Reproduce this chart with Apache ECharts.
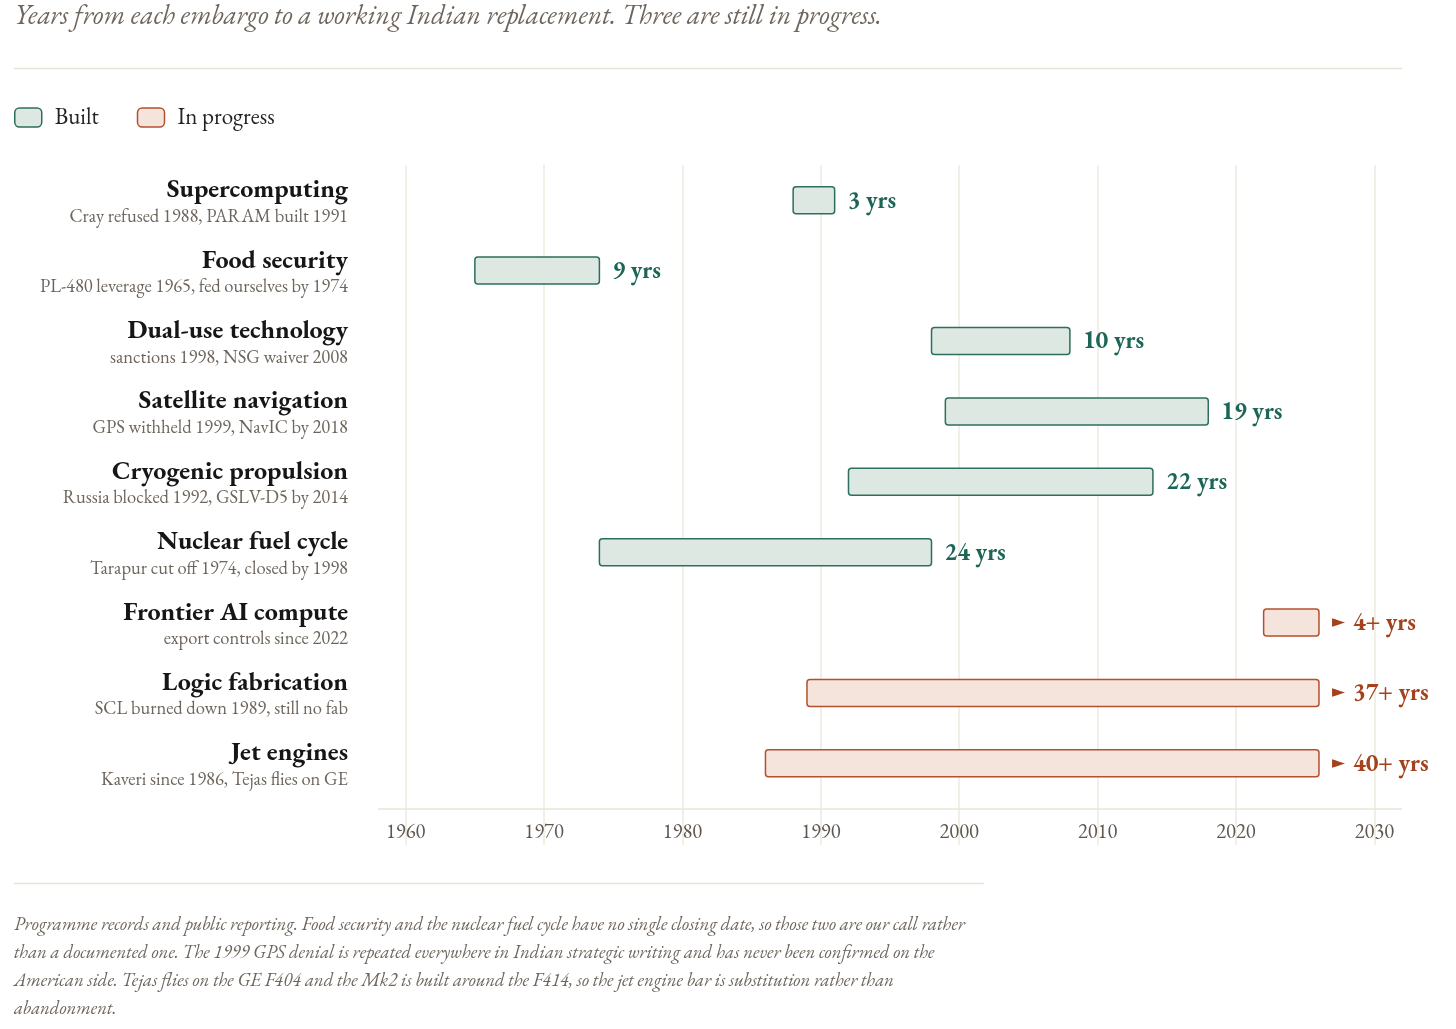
<!DOCTYPE html>
<html lang="en">
<head>
<meta charset="UTF-8">
<title>Embargo to replacement</title>
<script src="https://cdn.jsdelivr.net/npm/echarts@6/dist/echarts.min.js"></script>
<style>
  html, body { margin: 0; padding: 0; background: #fff; }
  #chart { width: 1456px; height: 1029px; }
</style>
</head>
<body>
<div id="chart"></div>
<script>
// rows, top to bottom
var names = ['Supercomputing', 'Food security', 'Dual-use technology', 'Satellite navigation',
  'Cryogenic propulsion', 'Nuclear fuel cycle', 'Frontier AI compute', 'Logic fabrication', 'Jet engines'];
var notes = ['Cray refused 1988, PARAM built 1991', 'PL-480 leverage 1965, fed ourselves by 1974',
  'sanctions 1998, NSG waiver 2008', 'GPS withheld 1999, NavIC by 2018', 'Russia blocked 1992, GSLV-D5 by 2014',
  'Tarapur cut off 1974, closed by 1998', 'export controls since 2022', 'SCL burned down 1989, still no fab',
  'Kaveri since 1986, Tejas flies on GE'];
var starts = [1988, 1965, 1998, 1999, 1992, 1974, 2022, 1989, 1986];
var ends   = [1991, 1974, 2008, 2018, 2014, 1998, 2026, 2026, 2026];
var built  = [true, true, true, true, true, true, false, false, false];
var yearTicks = [1960, 1970, 1980, 1990, 2000, 2010, 2020, 2030];

var FONT = "'EB Garamond', 'Liberation Serif', serif";
var GRID = '#eeeadf';
var GREY = '#6e665c';

var builtData = [], progData = [], rowData = [];
for (var i = 0; i < names.length; i++) {
  var d = [i, starts[i], ends[i]];
  if (built[i]) builtData.push(d); else progData.push(d);
  rowData.push([i]);
}

function makeBar(fill, stroke, txt, ongoing) {
  return function (params, api) {
    var row = api.value(0);
    var a = api.coord([api.value(1), row]);
    var b = api.coord([api.value(2), row]);
    var yrs = (api.value(2) - api.value(1)) + (ongoing ? '+' : '') + ' yrs';
    var kids = [{
      type: 'rect',
      shape: { x: a[0], y: a[1] - 13.5, width: b[0] - a[0], height: 27, r: 3 },
      style: { fill: fill, stroke: stroke, lineWidth: 1.5 }
    }];
    var tx = b[0] + 13;
    if (ongoing) {
      kids.push({ type: 'text', x: b[0] + 13, y: a[1],
        style: { text: '\u25BA', fill: txt, font: "17px 'DejaVu Sans'", verticalAlign: 'middle' } });
      tx = b[0] + 34;
    }
    kids.push({ type: 'text', x: tx, y: a[1] + 1,
      style: { text: yrs, fill: txt, font: 'bold 24px ' + FONT, verticalAlign: 'middle' } });
    return { type: 'group', children: kids };
  };
}

var chart = echarts.init(document.getElementById('chart'));
chart.setOption({
  animation: false,
  textStyle: { fontFamily: FONT },
  graphic: [
    { type: 'text', left: 14, top: 3,
      style: { text: 'Years from each embargo to a working Indian replacement. Three are still in progress.',
        font: 'italic 27.5px ' + FONT, fill: GREY } },
    { type: 'line', shape: { x1: 14, y1: 68.5, x2: 1402, y2: 68.5 }, style: { stroke: '#e8e4d6', lineWidth: 1.5 } },
    { type: 'line', shape: { x1: 14, y1: 883.5, x2: 984, y2: 883.5 }, style: { stroke: '#e8e4d6', lineWidth: 1.5 } },
    { type: 'text', left: 14, top: 911,
      style: { text: 'Programme records and public reporting. Food security and the nuclear fuel cycle have no single closing date, so those two are our call rather\n' +
        'than a documented one. The 1999 GPS denial is repeated everywhere in Indian strategic writing and has never been confirmed on the\n' +
        'American side. Tejas flies on the GE F404 and the Mk2 is built around the F414, so the jet engine bar is substitution rather than\n' +
        'abandonment.',
        font: 'italic 18.7px ' + FONT, fill: GREY, lineHeight: 28 } }
  ],
  legend: {
    left: 14, top: 106, padding: 0, itemWidth: 27, itemHeight: 19, itemGap: 38, icon: 'roundRect',
    textStyle: { fontSize: 23, color: '#222', fontFamily: FONT, padding: [0, 0, 0, 8] },
    data: [
      { name: 'Built', itemStyle: { color: '#dde8e3', borderColor: '#2e6e5e', borderWidth: 1.5 } },
      { name: 'In progress', itemStyle: { color: '#f5e4dc', borderColor: '#b4502c', borderWidth: 1.5 } }
    ]
  },
  grid: { left: 378, right: 54, top: 165, bottom: 184 },
  xAxis: {
    type: 'value', min: 1958, max: 2032,
    axisLine: { show: false }, axisTick: { show: false },
    splitLine: { show: true, showMinLine: false, showMaxLine: false, lineStyle: { color: GRID, width: 1.5 } },
    axisLabel: {
      margin: -13, verticalAlign: 'middle', fontSize: 20.5, color: '#5e574f', fontFamily: FONT,
      showMinLabel: false, showMaxLabel: false,
      formatter: function (v) { return yearTicks.indexOf(v) >= 0 ? String(v) : ''; }
    }
  },
  yAxis: { type: 'value', inverse: true, min: -0.5, max: 9.16, show: false },
  series: [
    { type: 'line', data: [], silent: true,
      markLine: { silent: true, symbol: 'none', label: { show: false },
        lineStyle: { color: '#e8e4d6', type: 'solid', width: 1.5 },
        data: [{ yAxis: 8.636 }] } },
    { name: 'Built', type: 'custom', data: builtData, encode: { x: [1, 2], y: 0 },
      itemStyle: { color: '#dde8e3' },
      renderItem: makeBar('#dde8e3', '#2e6e5e', '#1d6657', false) },
    { name: 'In progress', type: 'custom', data: progData, encode: { x: [1, 2], y: 0 },
      itemStyle: { color: '#f5e4dc' },
      renderItem: makeBar('#f5e4dc', '#b4502c', '#a3421c', true) },
    { type: 'custom', data: rowData, silent: true, encode: { y: 0 },
      renderItem: function (params, api) {
        var i = api.value(0);
        var p = api.coord([1958, i]);
        return { type: 'group', children: [
          { type: 'text', x: p[0] - 30, y: p[1] - 10,
            style: { text: names[i], fill: '#161616', font: 'bold 26px ' + FONT, align: 'right', verticalAlign: 'middle' } },
          { type: 'text', x: p[0] - 30, y: p[1] + 16.5,
            style: { text: notes[i], fill: GREY, font: '18.5px ' + FONT, align: 'right', verticalAlign: 'middle' } }
        ] };
      } }
  ]
});
</script>
</body>
</html>
